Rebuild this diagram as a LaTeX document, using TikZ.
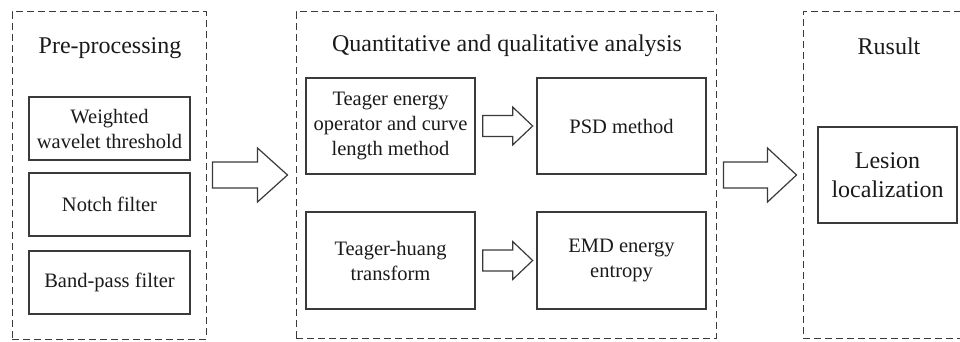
\documentclass[tikz,border=0pt]{standalone}
\usepackage{fontspec}
\setmainfont{Liberation Serif}
\newfontfamily\labelface{Liberation Serif}
\usetikzlibrary{calc}

\definecolor{ink}{HTML}{1A1A1A}
\definecolor{edge}{HTML}{3A3A3A}

% hollow block arrow: start point, length, shaft half height, head half height, head length
\newcommand\blockarrow[5]{%
  \draw[blockarr] (#1) ++(0,#3) -- ++({#2-#5},0) -- ++(0,{#4-#3})
    -- ++(#5,{-#4}) -- ++({-#5},{-#4}) -- ++(0,{#4-#3}) -- ++({#5-#2},0) -- cycle;}

\begin{document}
\begin{tikzpicture}[x=1pt,y=-1pt,
  stage/.style={draw=edge, line width=1pt, dash pattern=on 7pt off 4pt, inner sep=0pt},
  stepbox/.style={draw=edge, line width=1.3pt, align=center, inner sep=0pt,
    text=ink, font=\labelface\fontsize{20.5}{25}\selectfont},
  headline/.style={text=ink, font=\labelface\fontsize{24}{29}\selectfont, inner sep=0pt},
  blockarr/.style={draw=edge, line width=1.2pt, line join=miter, fill=white}]

\useasboundingbox (0,0) rectangle (960,342);
\clip (0,0) rectangle (960,342);

% stage frames
\node[stage, minimum width=194pt, minimum height=327pt] (pre) at (109,175.5) {};
\node[stage, minimum width=420pt, minimum height=326pt] (qa) at (506,175) {};
\node[stage, minimum width=180pt, minimum height=326pt] (res) at (893,175) {};

% stage titles
\node[headline] (preT) at (110,48) {Pre-processing};
\node[headline] (qaT) at (507,46) {Quantitative and qualitative analysis};
\node[headline] (resT) at (889,46) {Rusult};

% pre-processing steps
\node[stepbox, minimum width=161pt, minimum height=63pt] (wwt) at (109.5,128.5) {Weighted\\wavelet threshold};
\node[stepbox, minimum width=161pt, minimum height=63pt] (notch) at (109.5,204.5) {Notch filter};
\node[stepbox, minimum width=161pt, minimum height=63pt] (band) at (109.5,282.5) {Band-pass filter};

% analysis steps
\node[stepbox, minimum width=169pt, minimum height=96pt] (teo) at (390.5,126) {Teager energy\\operator and curve\\length method};
\node[stepbox, minimum width=169pt, minimum height=96pt] (psd) at (621.5,126) {PSD method};
\node[stepbox, minimum width=169pt, minimum height=97pt] (thht) at (390.5,260.5) {Teager-huang\\transform};
\node[stepbox, minimum width=169pt, minimum height=97pt] (emd) at (621.5,260.5) {EMD energy\\entropy};

% result
\node[stepbox, minimum width=139pt, minimum height=96pt,
  font=\labelface\fontsize{24}{28.5}\selectfont] (lesion) at (887.5,175) {Lesion\\localization};

% block arrows between stages and steps
\coordinate (a1) at ($(pre.east)+(6,-0.5)$);
\coordinate (a2) at ($(teo.east)+(7,0)$);
\coordinate (a3) at ($(thht.east)+(7,0)$);
\coordinate (a4) at ($(qa.east)+(7,0)$);
\blockarrow{a1}{75}{13}{27}{30}
\blockarrow{a2}{50}{10.5}{19}{20}
\blockarrow{a3}{50}{10.5}{19}{20}
\blockarrow{a4}{73}{13}{27}{29}

\end{tikzpicture}
\end{document}
